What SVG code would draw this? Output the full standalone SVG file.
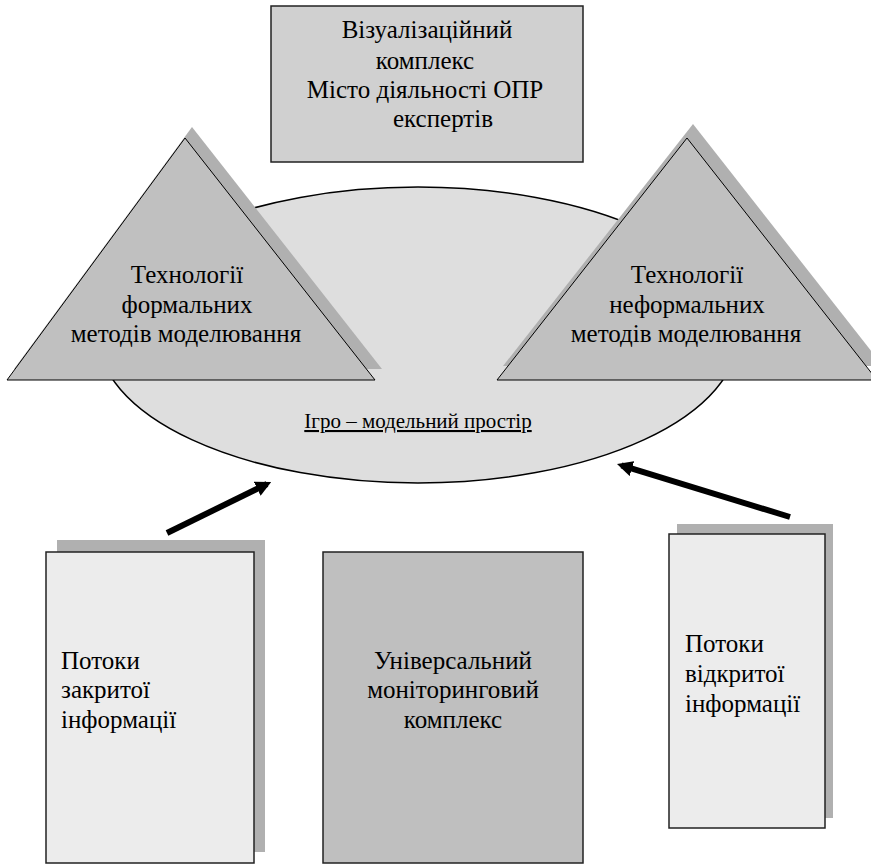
<svg xmlns="http://www.w3.org/2000/svg" width="871" height="864" viewBox="0 0 871 864">
<defs>
<style>
.t{font-family:"Liberation Serif","Times New Roman",serif;font-size:25px;fill:#000}
.c{text-anchor:middle}
.sh{fill:#b0b0b0}
.box{stroke:#222;stroke-width:1.5}
.tri{fill:#c0c0c0;stroke:#000;stroke-width:1}
.arr{stroke:#000;stroke-width:6;fill:none}
</style>
<marker id="ah" viewBox="0 0 10 10" refX="7" refY="5" markerWidth="2.6" markerHeight="2.6" orient="auto" markerUnits="strokeWidth">
<path d="M0,0 L10,5 L0,10 z" fill="#000"/>
</marker>
</defs>
<rect width="871" height="864" fill="#fff"/>
<g id="vis">
<rect class="box" x="271" y="6" width="312" height="156" fill="#d0d0d0"/>
<text class="t c" x="427" y="38">Візуалізаційний</text>
<text class="t c" x="425" y="69">комплекс</text>
<text class="t c" x="425" y="98">Місто діяльності ОПР</text>
<text class="t c" x="443" y="127">експертів</text>
</g>
<g id="space">
<ellipse cx="418" cy="335" rx="320" ry="148" fill="#dedede" stroke="#000" stroke-width="1.5"/>
<text class="t c" x="418" y="428" style="font-size:21px" text-decoration="underline">Ігро – модельний простір</text>
</g>
<g id="formal">
<polygon class="sh" points="192,127 382,369 14,369"/>
<polygon class="tri" points="185,138 375,380 7,380"/>
<text class="t c" x="187" y="283">Технології</text>
<text class="t c" x="187" y="313">формальних</text>
<text class="t c" x="186" y="342">методів моделювання</text>
</g>
<g id="informal">
<polygon class="sh" points="693,124 883,366 503,366"/>
<polygon class="tri" points="687,138 877,380 497,380"/>
<text class="t c" x="687" y="283">Технології</text>
<text class="t c" x="687" y="313">неформальних</text>
<text class="t c" x="686" y="342">методів моделювання</text>
</g>
<g id="connectors">
<line class="arr" x1="167" y1="533" x2="267" y2="484" marker-end="url(#ah)"/>
<line class="arr" x1="790" y1="517" x2="621.5" y2="465.4" marker-end="url(#ah)"/>
</g>
<g id="closed">
<rect class="sh" x="57" y="540" width="208" height="312"/>
<rect class="box" x="46" y="552" width="208" height="311" fill="#ececec"/>
<text class="t" x="61" y="669">Потоки</text>
<text class="t" x="61" y="698">закритої</text>
<text class="t" x="61" y="728">інформації</text>
</g>
<g id="monitor">
<rect class="box" x="323" y="552" width="260" height="311" fill="#bfbfbf"/>
<text class="t c" x="453" y="669">Універсальний</text>
<text class="t c" x="453" y="698">моніторинговий</text>
<text class="t c" x="453" y="728">комплекс</text>
</g>
<g id="open">
<rect class="sh" x="677" y="524" width="156" height="294"/>
<rect class="box" x="669" y="534" width="156" height="294" fill="#ececec"/>
<text class="t" x="685" y="652">Потоки</text>
<text class="t" x="685" y="682">відкритої</text>
<text class="t" x="685" y="712">інформації</text>
</g>
</svg>
